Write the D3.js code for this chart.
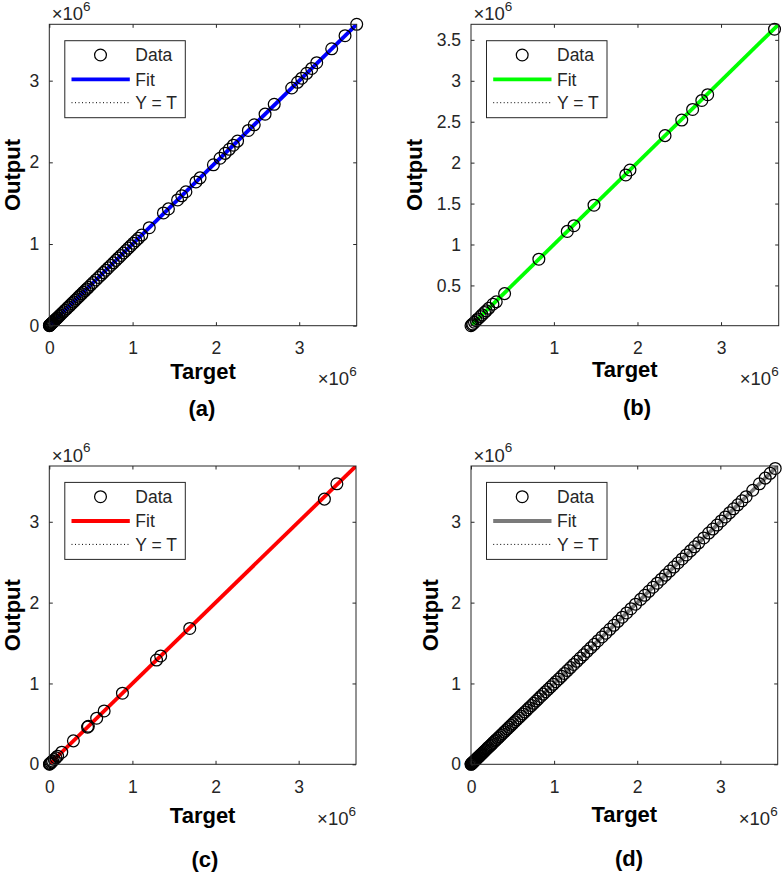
<!DOCTYPE html>
<html><head><meta charset="utf-8">
<script src="https://cdn.jsdelivr.net/npm/d3@7"></script>
<style>body{margin:0;background:#fff;} svg{display:block;font-family:Arial,"Liberation Sans",sans-serif;}</style>
</head><body><svg id="c" width="784" height="874"></svg>
<script>
// ---------- data (values in units of 1e6) ----------
const panelLabels = ["(a)", "(b)", "(c)", "(d)"];
const legendLabels = ["Data", "Fit", "Y = T"];
const fitColors = ["#0000ff", "#00ff00", "#ff0000", "#7a7a7a"];
const xTickValues = [[0, 1, 2, 3], [1, 2, 3], [0, 1, 2, 3], [0, 1, 2, 3]];
const yTickValues = [[0, 1, 2, 3], [0.5, 1, 1.5, 2, 2.5, 3, 3.5], [0, 1, 2, 3], [0, 1, 2, 3]];
const axisMin = [0, 0.008, 0, 0];
const axisMax = [3.69, 3.69, 3.69, 3.69];
const fitSlope = [1.0, 1.0, 1.0, 1.0];
const fitIntercept = [0, 0, 0, 0];

const targetA = [3.69,3.55,3.39,3.21,3.15,3.09,3.03,2.98,2.91,2.70,
  2.59,2.46,2.39,2.26,2.21,2.16,2.11,2.05,1.97,1.81,
  1.76,1.64,1.59,1.54,1.43,1.37,1.20,1.11,1.07,1.04,
  1.01,0.98,0.95,0.92,0.89,0.86,0.83,0.80,0.77,0.74,
  0.71,0.68,0.65,0.62,0.59,0.56,0.53,0.50,0.47,0.45,
  0.43,0.41,0.39,0.37,0.35,0.33,0.31,0.29,0.27,0.25,
  0.23,0.21,0.19,0.17,0.15,0.13,0.115,0.10,0.09,0.08,
  0.07,0.06,0.05,0.042,0.035,0.028,0.022,0.017,0.013,0.01,
  0.007,0.005,0.003,0.001];
const outputA = [3.69,3.55,3.39,3.22,3.15,3.09,3.03,2.98,2.91,2.71,
  2.59,2.46,2.39,2.26,2.21,2.16,2.11,2.05,1.97,1.81,
  1.76,1.64,1.59,1.54,1.43,1.38,1.20,1.11,1.07,1.04,
  1.01,0.98,0.95,0.92,0.89,0.86,0.83,0.80,0.77,0.74,
  0.71,0.68,0.65,0.62,0.59,0.56,0.53,0.50,0.47,0.45,
  0.43,0.41,0.39,0.37,0.35,0.33,0.31,0.29,0.27,0.25,
  0.23,0.21,0.19,0.17,0.15,0.13,0.115,0.10,0.09,0.08,
  0.07,0.06,0.05,0.042,0.035,0.028,0.022,0.017,0.013,0.01,
  0.007,0.005,0.003,0.001];

const targetB = [3.64,2.84,2.77,2.66,2.53,2.33,1.91,1.86,1.48,1.24,
  1.16,0.82,0.41,0.31,0.27,0.22,0.19,0.17,0.14,0.12,
  0.09,0.07,0.05,0.03,0.02,0.008];
const outputB = [3.63,2.83,2.76,2.65,2.52,2.33,1.91,1.85,1.48,1.23,
  1.16,0.82,0.40,0.30,0.27,0.22,0.19,0.17,0.14,0.12,
  0.09,0.07,0.05,0.03,0.02,0.008];

const targetC = [3.46,3.31,1.69,1.34,1.29,0.88,0.66,0.57,0.47,0.46,
  0.29,0.15,0.10,0.08,0.06,0.04,0.03,0.02,0.01,0.005,0.002];
const outputC = [3.47,3.28,1.68,1.34,1.29,0.88,0.66,0.57,0.47,0.46,
  0.29,0.15,0.10,0.08,0.06,0.04,0.03,0.02,0.01,0.005,0.002];

const targetD = [0,0.003,0.006,0.01,0.014,0.018,0.023,0.028,0.034,0.04,
  0.047,0.054,0.062,0.07,0.079,0.088,0.098,0.108,0.119,0.13,
  0.142,0.154,0.167,0.18,0.194,0.208,0.223,0.238,0.254,0.27,
  0.287,0.304,0.322,0.34,0.359,0.378,0.398,0.418,0.439,0.46,
  0.482,0.504,0.527,0.55,0.574,0.598,0.623,0.648,0.674,0.70,
  0.727,0.754,0.782,0.81,0.839,0.868,0.898,0.928,0.959,0.99,
  1.022,1.055,1.089,1.124,1.16,1.197,1.235,1.274,1.314,1.355,
  1.397,1.44,1.484,1.529,1.575,1.622,1.67,1.719,1.769,1.82,
  1.872,1.925,1.98,2.04,2.09,2.14,2.19,2.24,2.29,2.34,
  2.39,2.44,2.49,2.54,2.59,2.64,2.69,2.74,2.80,2.86,
  2.91,2.96,3.01,3.06,3.11,3.16,3.21,3.26,3.31,3.39,
  3.47,3.54,3.60,3.66];
const outputD = [0,0.003,0.006,0.01,0.014,0.018,0.023,0.028,0.034,0.04,
  0.047,0.054,0.062,0.07,0.079,0.088,0.098,0.108,0.119,0.13,
  0.142,0.154,0.167,0.18,0.194,0.208,0.223,0.238,0.254,0.27,
  0.287,0.304,0.322,0.34,0.359,0.378,0.398,0.418,0.439,0.46,
  0.482,0.504,0.527,0.55,0.574,0.598,0.623,0.648,0.674,0.70,
  0.727,0.754,0.782,0.81,0.839,0.868,0.898,0.928,0.959,0.99,
  1.022,1.055,1.089,1.124,1.16,1.197,1.235,1.274,1.314,1.355,
  1.397,1.44,1.484,1.529,1.575,1.622,1.67,1.719,1.769,1.82,
  1.872,1.925,1.98,2.04,2.09,2.14,2.19,2.24,2.29,2.34,
  2.39,2.44,2.49,2.54,2.59,2.64,2.69,2.74,2.80,2.86,
  2.91,2.96,3.01,3.06,3.11,3.16,3.21,3.26,3.31,3.39,
  3.47,3.54,3.60,3.66];

const targets = [targetA, targetB, targetC, targetD];
const outputs = [outputA, outputB, outputC, outputD];

// ---------- layout ----------
const boxes = [
  {l: 49.3, r: 356.7, t: 24.3, b: 325.7, xlab: 53, exp: 59.3, ylabX: 20, pl: {x: 202, y: 416}},
  {l: 471, r: 778.7, t: 24.3, b: 325.7, xlab: 51.5, exp: 59.3, ylabX: 422, pl: {x: 637, y: 415}},
  {l: 49.3, r: 356, t: 466, b: 764.3, xlab: 59, exp: 60.7, ylabX: 20, pl: {x: 205, y: 867}},
  {l: 471, r: 777.7, t: 466, b: 764.3, xlab: 57.4, exp: 60.7, ylabX: 438, pl: {x: 629, y: 866}}
];
const axisColor = "#262626";
const tickFont = 17.5;

const svg = d3.select("#c");
const defs = svg.append("defs");

boxes.forEach((L, i) => {
  const x = d3.scaleLinear().domain([axisMin[i], axisMax[i]]).range([L.l, L.r]);
  const y = d3.scaleLinear().domain([axisMin[i], axisMax[i]]).range([L.b, L.t]);
  const g = svg.append("g");
  const cid = "clip" + i;
  defs.append("clipPath").attr("id", cid).append("rect")
    .attr("x", L.l).attr("y", L.t).attr("width", L.r - L.l).attr("height", L.b - L.t);

  const lo = axisMin[i], hi = axisMax[i];
  // Y = T dotted
  g.append("line").attr("clip-path", `url(#${cid})`)
    .attr("x1", x(lo)).attr("y1", y(lo)).attr("x2", x(hi)).attr("y2", y(hi))
    .attr("stroke", "#000").attr("stroke-width", 1).attr("stroke-dasharray", "1,2.5");
  // Fit
  g.append("line").attr("clip-path", `url(#${cid})`)
    .attr("x1", x(lo)).attr("y1", y(fitSlope[i] * lo + fitIntercept[i]))
    .attr("x2", x(hi)).attr("y2", y(fitSlope[i] * hi + fitIntercept[i]))
    .attr("stroke", fitColors[i]).attr("stroke-width", 3.8);
  // Data
  const pts = targets[i].map((t, k) => ({t, o: outputs[i][k]}));
  g.append("g").selectAll("circle").data(pts).join("circle")
    .attr("cx", d => x(d.t)).attr("cy", d => y(d.o)).attr("r", 5.9)
    .attr("fill", "none").attr("stroke", "#000").attr("stroke-width", 1.25);

  // axes with inward ticks
  const styleAxis = sel => {
    sel.select(".domain").remove();
    sel.selectAll(".tick line").attr("stroke", axisColor);
    sel.selectAll(".tick text").attr("fill", axisColor).style("font-size", tickFont + "px")
      .style("font-family", "Arial, 'Liberation Sans', sans-serif");
  };
  g.append("g").attr("transform", `translate(0,${L.b})`)
    .call(d3.axisBottom(x).tickValues(xTickValues[i]).tickSize(-3.5).tickPadding(16).tickFormat(d3.format("~g")))
    .call(styleAxis);
  g.append("g").attr("transform", `translate(0,${L.t})`)
    .call(d3.axisTop(x).tickValues(xTickValues[i]).tickSize(-3.5).tickFormat(""))
    .call(styleAxis);
  g.append("g").attr("transform", `translate(${L.l},0)`)
    .call(d3.axisLeft(y).tickValues(yTickValues[i]).tickSize(-3.5).tickPadding(10).tickFormat(d3.format("~g")))
    .call(styleAxis);
  g.append("g").attr("transform", `translate(${L.r},0)`)
    .call(d3.axisRight(y).tickValues(yTickValues[i]).tickSize(-3.5).tickFormat(""))
    .call(styleAxis);

  // box
  g.append("rect").attr("x", L.l).attr("y", L.t).attr("width", L.r - L.l).attr("height", L.b - L.t)
    .attr("fill", "none").attr("stroke", axisColor).attr("stroke-width", 1);

  // exponent labels
  const expTop = g.append("text").attr("x", L.l + 2.4).attr("y", L.t - 4.3)
    .attr("fill", axisColor).style("font-size", "18.5px");
  expTop.append("tspan").text("×10");
  expTop.append("tspan").attr("dy", -9.5).style("font-size", "13.5px").text("6");
  const expBot = g.append("text").attr("x", L.r).attr("y", L.b + L.exp)
    .attr("text-anchor", "end").attr("fill", axisColor).style("font-size", "18.5px");
  expBot.append("tspan").text("×10");
  expBot.append("tspan").attr("dy", -9.5).style("font-size", "13.5px").text("6");

  // axis titles
  g.append("text").attr("x", (L.l + L.r) / 2).attr("y", L.b + L.xlab)
    .attr("text-anchor", "middle").attr("font-weight", "bold").style("font-size", "22px")
    .attr("fill", "#000").text("Target");
  g.append("text").attr("transform", `translate(${L.ylabX},${(L.t + L.b) / 2}) rotate(-90)`)
    .attr("text-anchor", "middle").attr("font-weight", "bold").style("font-size", "22px")
    .attr("fill", "#000").text("Output");

  // panel label
  svg.append("text").attr("x", L.pl.x).attr("y", L.pl.y).attr("text-anchor", "middle")
    .attr("font-weight", "bold").style("font-size", "22px").attr("fill", "#000").text(panelLabels[i]);

  // legend
  const lx = L.l + 15.5, ly = L.t + 16.4;
  const lg = g.append("g").attr("transform", `translate(${lx},${ly})`);
  lg.append("rect").attr("width", 120.5).attr("height", 77).attr("fill", "#fff")
    .attr("stroke", axisColor).attr("stroke-width", 1);
  const rows = [14.3, 38.6, 62];
  lg.append("circle").attr("cx", 35.7).attr("cy", rows[0]).attr("r", 5.9)
    .attr("fill", "none").attr("stroke", "#000").attr("stroke-width", 1.25);
  lg.append("line").attr("x1", 6.7).attr("x2", 65).attr("y1", rows[1]).attr("y2", rows[1])
    .attr("stroke", fitColors[i]).attr("stroke-width", 3.8);
  lg.append("line").attr("x1", 6.7).attr("x2", 65).attr("y1", rows[2]).attr("y2", rows[2])
    .attr("stroke", "#000").attr("stroke-width", 1).attr("stroke-dasharray", "1,2.5");
  legendLabels.forEach((t, k) => {
    lg.append("text").attr("x", 70.5).attr("y", rows[k]).attr("dy", "0.36em")
      .style("font-size", "17.5px").attr("fill", axisColor).text(t);
  });
});
</script>
</body></html>
